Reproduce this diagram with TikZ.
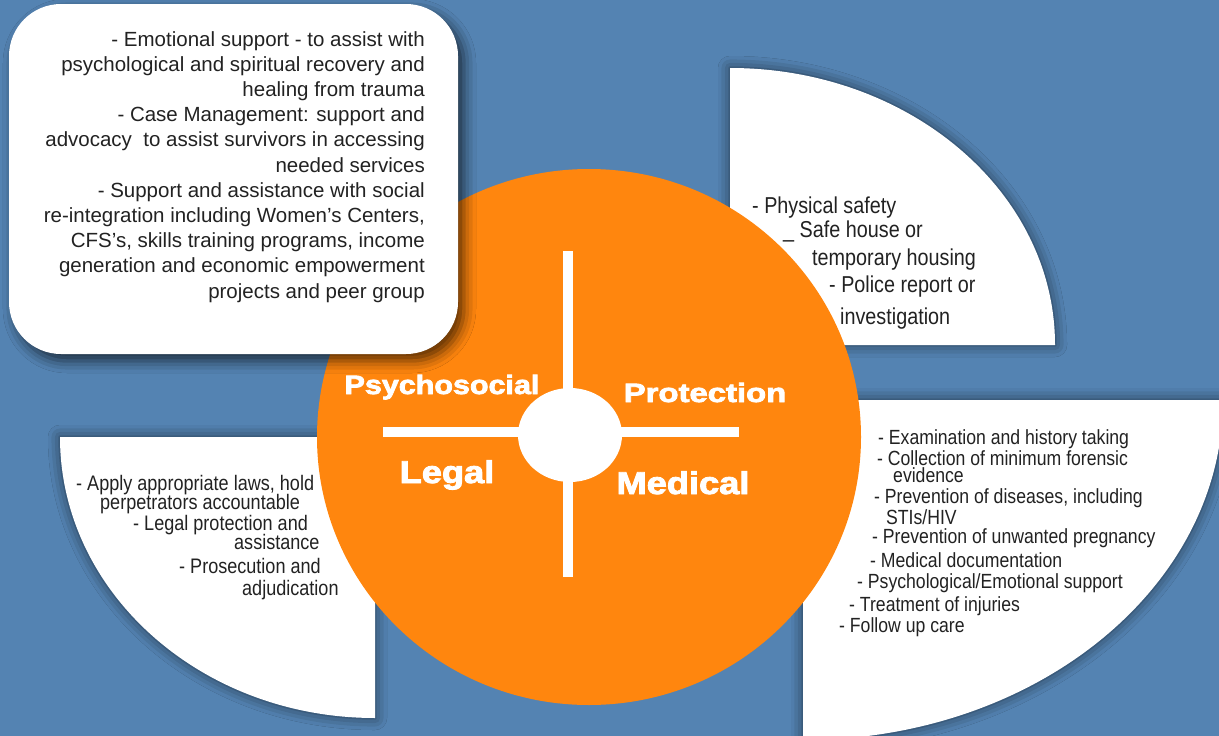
\documentclass[tikz,border=0pt]{standalone}
\usepackage{fontspec}
\usepackage{graphicx}
\setmainfont{Liberation Sans}
\newfontfamily\narrowfont{Liberation Sans}[FakeStretch=0.86]
\newfontfamily\lblfont{Liberation Sans Bold}[FakeBold=2.6]
\usetikzlibrary{shapes.geometric,shadows.blur}
\definecolor{bgblue}{RGB}{84,131,178}
\definecolor{orng}{RGB}{255,134,14}
\definecolor{txt}{RGB}{34,34,34}
\tikzset{
  whiteshape/.style={fill=white, blur shadow={shadow xshift=0pt, shadow yshift=0pt, shadow blur radius=12pt, shadow opacity=60}},
  boxshape/.style={fill=white, rounded corners=52pt, blur shadow={shadow xshift=6pt, shadow yshift=-7pt, shadow blur radius=12pt, shadow opacity=65}},
  line/.style={text=txt, inner sep=0pt, anchor=base west},
  bar/.style={draw=white, line width=10pt},
  hub/.style={ellipse, fill=white, inner sep=0pt, minimum width=104pt, minimum height=94pt},
  lbl/.style={text=white, inner sep=0pt, anchor=base},
}
\begin{document}
\begin{tikzpicture}[x=1pt,y=-1pt]
\useasboundingbox (0,0) rectangle (1219,736);
\clip (0,0) rectangle (1219,736);
\fill[bgblue] (0,0) rectangle (1219,736);
% quarter shapes
\path[whiteshape] (60,437) -- (375,437) -- (375,718) arc[start angle=90,end angle=180,x radius=315,y radius=281] -- cycle;
\path[whiteshape] (730,345) -- (730,68) arc[start angle=270,end angle=360,x radius=325,y radius=277] -- cycle;
\path[whiteshape] (803,400) -- (1223,400) arc[start angle=0,end angle=90,x radius=420,y radius=340] -- cycle;
% orange circle
\fill[orng] (589,437) ellipse[x radius=272, y radius=268];
% cross
\coordinate (vtop) at (568,251);
\coordinate (vbot) at (568,577);
\coordinate (hl) at (383,432);
\coordinate (hr) at (739,432);
\draw[bar] (vtop) -- (vbot);
\draw[bar] (hl) -- (hr);
\node[hub] (hub) at (570,435) {};
% labels
\node[lbl] (psy) at (442,394) {\lblfont\fontsize{26.5}{30}\selectfont\scalebox{1.15}[1]{Psychosocial}};
\node[lbl] (pro) at (705,402) {\lblfont\fontsize{26.5}{30}\selectfont\scalebox{1.24}[1]{Protection}};
\node[lbl] (leg) at (447,483) {\lblfont\fontsize{31.5}{34}\selectfont\scalebox{1.15}[1]{Legal}};
\node[lbl] (med) at (683,494) {\lblfont\fontsize{31.5}{34}\selectfont\scalebox{1.15}[1]{Medical}};
% top-left box
\path[boxshape] (9,4) rectangle (458,354);
\node[text=txt, inner sep=0pt, anchor=base east, align=right, font=\fontsize{20.5}{25.2}\selectfont] (psytext) at (425,298) {- Emotional support - to assist with\\
psychological and spiritual recovery and\\
healing from trauma\\
- Case Management: support and\\
advocacy\ \ to assist survivors in accessing\\
needed services\\
- Support and assistance with social\\
re-integration including Women’s Centers,\\
CFS’s, skills training programs, income\\
generation and economic empowerment\\
projects and peer group};
% protection text
\begin{scope}[every node/.style={line, font=\narrowfont\fontsize{23}{26}\selectfont}]
\node (p1) at (752,213) {- Physical safety};
\node (p2) at (783,237) {\_ Safe house or};
\node (p3) at (812,265) {temporary\ housing};
\node (p4) at (829,292) {- Police report or};
\node (p5) at (840,324) {investigation};
\end{scope}
% medical text
\begin{scope}[every node/.style={line, font=\narrowfont\fontsize{20.5}{24}\selectfont}]
\node (m1) at (878,444) {- Examination and history taking};
\node (m2) at (877,465) {- Collection of minimum forensic};
\node (m3) at (893,482) {evidence};
\node (m4) at (874,503) {- Prevention of diseases, including};
\node (m5) at (886,524) {STIs/HIV};
\node (m6) at (872,543) {- Prevention of unwanted pregnancy};
\node (m7) at (870,567) {- Medical documentation};
\node (m8) at (857,588) {- Psychological/Emotional support};
\node (m9) at (849,611) {- Treatment of injuries};
\node (m10) at (839,632) {- Follow up care};
\end{scope}
% legal text
\begin{scope}[every node/.style={line, font=\narrowfont\fontsize{21}{24}\selectfont}]
\node (l1) at (76,490) {- Apply appropriate laws, hold};
\node (l2) at (100,509) {perpetrators accountable};
\node (l3) at (133,530) {- Legal protection and};
\node (l4) at (234,549) {assistance};
\node (l5) at (179,573) {- Prosecution and};
\node (l6) at (242,595) {adjudication};
\end{scope}
\end{tikzpicture}
\end{document}
